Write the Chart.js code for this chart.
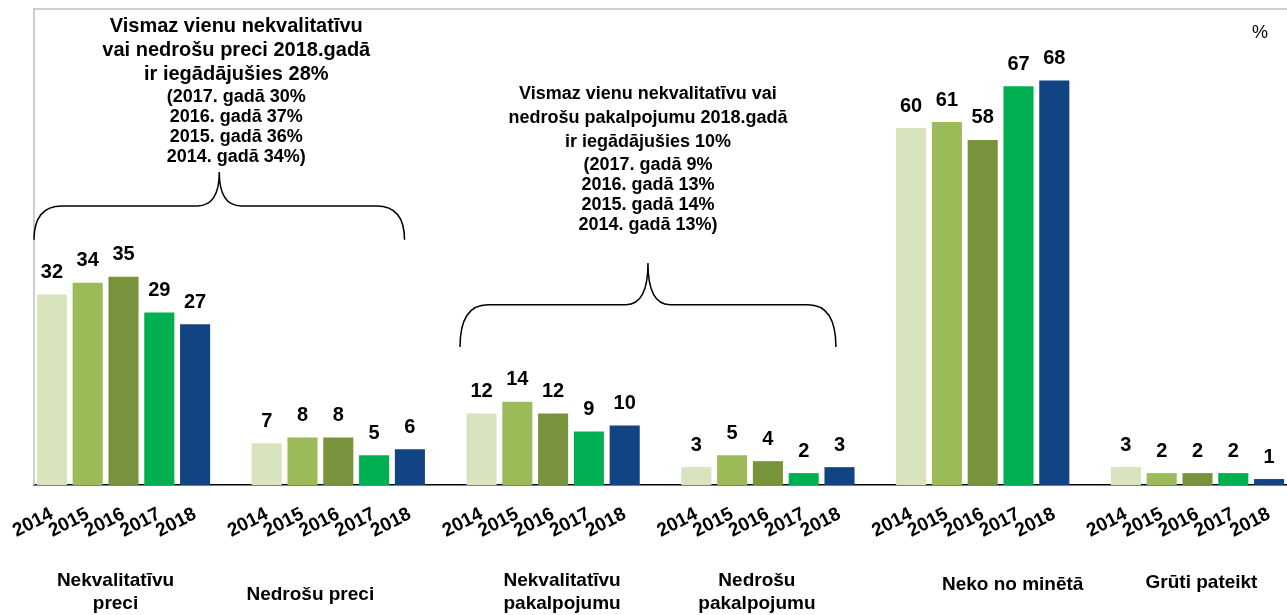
<!DOCTYPE html>
<html>
<head>
<meta charset="utf-8">
<script src="https://cdn.jsdelivr.net/npm/chart.js@4"></script>
<style>
  body { margin: 0; background: #fff; }
  canvas { display: block; }
</style>
</head>
<body>
<canvas id="grafiks" width="1287" height="615"></canvas>
<script>
// Grupas (kategorijas) un gadi
const grupas = [
    ['Nekvalitatīvu', 'preci'],
    ['Nedrošu preci'],
    ['Nekvalitatīvu', 'pakalpojumu'],
    ['Nedrošu', 'pakalpojumu'],
    ['Neko no minētā'],
    ['Grūti pateikt']
];
const gadi = ['2014', '2015', '2016', '2017', '2018'];

// Vērtības pa gadiem (%), secībā pēc grupām
const v2014 = [32, 7, 12, 3, 60, 3];
const v2015 = [34, 8, 14, 5, 61, 2];
const v2016 = [35, 8, 12, 4, 58, 2];
const v2017 = [29, 5, 9, 2, 67, 2];
const v2018 = [27, 6, 10, 3, 68, 1];
const vertibas = [v2014, v2015, v2016, v2017, v2018];

const krasas = ['#d7e4bd', '#9bbb59', '#77933c', '#00b050', '#124382'];

// Piezīmes ar iekavām
const piezime1 = ['Vismaz vienu nekvalitatīvu', 'vai nedrošu preci 2018.gadā', 'ir iegādājušies 28%',
    '(2017. gadā 30%', '2016. gadā 37%', '2015. gadā 36%', '2014. gadā 34%)'];
const piezime2 = ['Vismaz vienu nekvalitatīvu vai', 'nedrošu pakalpojumu 2018.gadā', 'ir iegādājušies 10%',
    '(2017. gadā 9%', '2016. gadā 13%', '2015. gadā 14%', '2014. gadā 13%)'];

const FONT = '"Liberation Sans", Arial, sans-serif';

// grupu nosaukumu nobīde (px) kā oriģinālā
const nosNobideX = [-8, -28, 9, -11, 30, 4];
const nosNobideY = [0, 10, 0, 0, 0, -2];

// Plakana kategoriju ass: 5 gadi katrai grupai + tukša vieta starp grupām
const etiketes = [];
const dati = [];
const fons = [];
grupas.forEach((g, gi) => {
    gadi.forEach((gads, yi) => {
        etiketes.push(gads);
        dati.push(vertibas[yi][gi]);
        fons.push(krasas[yi]);
    });
    if (gi < grupas.length - 1) {
        etiketes.push('');
        dati.push(null);
        fons.push('#fff');
    }
});

function grupasCentrs(x, gi) {
    const a = x.getPixelForValue(gi * 6);
    const b = x.getPixelForValue(gi * 6 + 4);
    return (a + b) / 2;
}

function iekava(ctx, x0, x1, xc, yGals, yVid, yVirsotne) {
    ctx.beginPath();
    ctx.moveTo(x0, yGals);
    ctx.quadraticCurveTo(x0, yVid, x0 + 28, yVid);
    ctx.lineTo(xc - 22, yVid);
    ctx.quadraticCurveTo(xc, yVid, xc, yVirsotne);
    ctx.quadraticCurveTo(xc, yVid, xc + 22, yVid);
    ctx.lineTo(x1 - 28, yVid);
    ctx.quadraticCurveTo(x1, yVid, x1, yGals);
    ctx.stroke();
}

function piezime(ctx, xc, yPirma, rindas, lielais) {
    ctx.fillStyle = '#000';
    ctx.textAlign = 'center';
    ctx.textBaseline = 'middle';
    let y = yPirma;
    rindas.forEach((r, i) => {
        ctx.font = (i < 3 ? 'bold ' + lielais + 'px ' : 'bold 18px ') + FONT;
        ctx.fillText(r, xc, y);
        y += (i < 2 ? 24 : (i === 2 ? 23 : 20));
    });
}

const zimejumi = {
    id: 'zimejumi',
    afterDatasetsDraw(chart) {
        const ctx = chart.ctx;
        const x = chart.scales.x;
        const y = chart.scales.y;
        const area = chart.chartArea;

        ctx.save();
        // rāmis augšā un pa kreisi
        ctx.strokeStyle = '#bfbfbf';
        ctx.lineWidth = 1.5;
        ctx.beginPath();
        ctx.moveTo(area.left, area.bottom);
        ctx.lineTo(area.left, area.top);
        ctx.lineTo(chart.width, area.top);
        ctx.stroke();

        // vērtību etiķetes
        ctx.fillStyle = '#000';
        ctx.font = 'bold 20px ' + FONT;
        ctx.textAlign = 'center';
        ctx.textBaseline = 'middle';
        chart.getDatasetMeta(0).data.forEach((bar, i) => {
            const v = dati[i];
            if (v === null) return;
            ctx.fillText(String(v), bar.x, bar.y - 22);
        });

        // grupu nosaukumi
        ctx.font = 'bold 19px ' + FONT;
        grupas.forEach((g, gi) => {
            const cx = grupasCentrs(x, gi) + nosNobideX[gi];
            const dy = nosNobideY[gi];
            if (g.length === 2) {
                ctx.fillText(g[0], cx, area.bottom + 96 + dy);
                ctx.fillText(g[1], cx, area.bottom + 119 + dy);
            } else {
                ctx.fillText(g[0], cx, area.bottom + 100 + dy);
            }
        });

        // iekavas
        ctx.strokeStyle = '#000';
        ctx.lineWidth = 1.5;
        const b1x0 = x.getPixelForValue(-0.5);
        const b1x1 = x.getPixelForValue(9.85);
        iekava(ctx, b1x0, b1x1, (b1x0 + b1x1) / 2,
            y.getPixelForValue(41.2), y.getPixelForValue(46.9), y.getPixelForValue(52.6));
        const b2x0 = x.getPixelForValue(11.4);
        const b2x1 = x.getPixelForValue(21.9);
        iekava(ctx, b2x0, b2x1, (b2x0 + b2x1) / 2,
            y.getPixelForValue(23.2), y.getPixelForValue(30.3), y.getPixelForValue(37.3));

        piezime(ctx, (b1x0 + b1x1) / 2 + 17, y.getPixelForValue(77.1), piezime1, 20);
        piezime(ctx, (b2x0 + b2x1) / 2, y.getPixelForValue(65.7), piezime2, 18);

        // mērvienība
        ctx.font = '18px ' + FONT;
        ctx.fillText('%', area.right - 27, area.top + 24);
        ctx.restore();
    }
};

const ctx = document.getElementById('grafiks').getContext('2d');
new Chart(ctx, {
    type: 'bar',
    data: {
        labels: etiketes,
        datasets: [{
            data: dati,
            backgroundColor: fons,
            borderWidth: 0,
            barPercentage: 0.84,
            categoryPercentage: 1.0
        }]
    },
    options: {
        responsive: false,
        animation: false,
        layout: { padding: { left: 34, top: 9, right: 0, bottom: 0 } },
        plugins: {
            legend: { display: false },
            tooltip: { enabled: false }
        },
        scales: {
            x: {
                grid: { display: false, drawTicks: false },
                border: { display: true, color: '#000', width: 1.5 },
                ticks: {
                    autoSkip: false,
                    minRotation: 27,
                    maxRotation: 27,
                    padding: 18,
                    color: '#000',
                    font: { family: FONT, size: 19, weight: 'bold' }
                },
                afterFit(axis) {
                    axis.height = 130;
                    axis.paddingLeft = 0;
                    axis.paddingRight = 0;
                }
            },
            y: {
                display: false,
                min: 0,
                max: 80
            }
        }
    },
    plugins: [zimejumi]
});
</script>
</body>
</html>
